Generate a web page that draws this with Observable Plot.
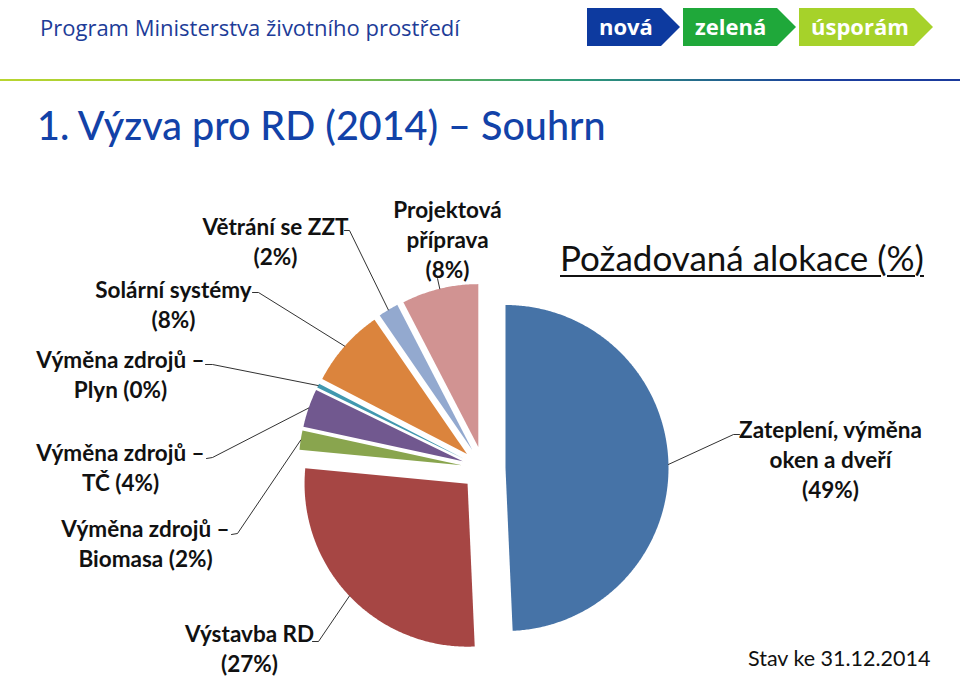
<!DOCTYPE html>
<html>
<head>
<meta charset="utf-8">
<script src="https://cdn.jsdelivr.net/npm/d3@7"></script>
<script src="https://cdn.jsdelivr.net/npm/@observablehq/plot@0.6"></script>
<style>
  html, body { margin:0; padding:0; background:#fff; }
  #page { position:relative; width:960px; height:676px; overflow:hidden; font-family: Lato, "Open Sans", sans-serif; }
  .abs { position:absolute; white-space:nowrap; }
  #prog { left:40px; top:12px; font-family:"Open Sans", sans-serif; font-size:22px; color:#1d3c98; }
  .tag { position:absolute; top:8px; height:38px; color:#fff; font-family:"Open Sans", sans-serif; font-weight:700; font-size:22px; line-height:36px;
         clip-path: polygon(0 0, calc(100% - 19px) 0, 100% 50%, calc(100% - 19px) 100%, 0 100%); box-sizing:border-box; }
  #rule { left:0; top:79px; width:960px; height:2px; background:linear-gradient(to right, #b9d52f 0%, #8cc63f 30%, #2e9a78 60%, #1b3f9e 85%, #1a3a9c 100%); }
  #title { left:37px; top:101px; font-size:39.5px; color:#1242a8; font-family:Lato, sans-serif; font-weight:500; }
  #chart { position:absolute; left:0; top:180px; }
  #alloc { left:560px; top:236px; font-size:35px; color:#111; text-decoration:underline; text-decoration-thickness:2px; text-underline-offset:4px; }
  #stav { left:748px; top:645px; font-size:21.5px; color:#111; }
</style>
</head>
<body>
<div id="page">
  <div class="abs" id="prog">Program Ministerstva životního prostředí</div>
  <div class="tag" style="left:587px;width:93px;background:#0d3a9f;padding-left:12px;">nová</div>
  <div class="tag" style="left:683px;width:113px;background:#1fa83a;padding-left:12px;">zelená</div>
  <div class="tag" style="left:799px;width:134px;background:#a6d22a;padding-left:12px;">úsporám</div>
  <div class="abs" id="rule"></div>
  <div class="abs" id="title">1. Výzva pro RD (2014) – Souhrn</div>
  <div id="chart"></div>
  <div class="abs" id="alloc">Požadovaná alokace (%)</div>
  <div class="abs" id="stav">Stav ke 31.12.2014</div>
</div>
<script>
// ---- data ----
const categories = [
  "Zateplení, výměna oken a dveří",
  "Výstavba RD",
  "Výměna zdrojů – Biomasa",
  "Výměna zdrojů – TČ",
  "Výměna zdrojů – Plyn",
  "Solární systémy",
  "Větrání se ZZT",
  "Projektová příprava"
];
const shares = [49.3, 27.2, 1.9, 3.8, 0.4, 7.8, 2.0, 7.6];
const shareLabels = ["49%", "27%", "2%", "4%", "0%", "8%", "2%", "8%"];
const labelLines = [
  ["Zateplení, výměna", "oken a dveří"],
  ["Výstavba RD"],
  ["Výměna zdrojů –", "Biomasa"],
  ["Výměna zdrojů –", "TČ"],
  ["Výměna zdrojů –", "Plyn"],
  ["Solární systémy"],
  ["Větrání se ZZT"],
  ["Projektová", "příprava"]
];
const colors = ["#4673a7", "#a64644", "#89a54e", "#71588f", "#4198af", "#db843d", "#93a9cf", "#d19392"];

// ---- layout (page pixel units) ----
const CX = 483, CY = 468, R = 163, EXPLODE = 22;
// label block centre, whether share sits on its own line, leader elbow/end
const labelLayout = [
  {x: 830, y: 458, own: true,  elbow: [733, 434], end: [739, 434]},
  {x: 249, y: 647, own: true,  elbow: [318, 641], end: [312, 641]},
  {x: 145, y: 542, own: false, elbow: [237, 533], end: [231, 534]},
  {x: 120, y: 466, own: false, elbow: [212, 457], end: [206, 458]},
  {x: 120, y: 373, own: false, elbow: [212, 364], end: [205, 364]},
  {x: 173, y: 303, own: true,  elbow: [258, 292], end: [252, 292]},
  {x: 275, y: 240, own: true,  elbow: [349, 230], end: [344, 230]},
  {x: 447, y: 238, own: true,  elbow: [437, 278], end: [437, 278]}
];

const rows = categories.map((c, i) => ({cat: c, value: shares[i], i}));
const arcs = d3.pie().sort(null).value(d => d.value)(rows);

const slicePts = [];
const leaderPts = [];
arcs.forEach(a => {
  const mid = (a.startAngle + a.endAngle) / 2;
  const ox = CX + Math.sin(mid) * EXPLODE, oy = CY - Math.cos(mid) * EXPLODE;
  const cat = a.data.cat;
  slicePts.push({cat, x: ox, y: oy});
  const n = Math.max(2, Math.ceil((a.endAngle - a.startAngle) / (Math.PI / 360)));
  for (let k = 0; k <= n; k++) {
    const t = a.startAngle + (a.endAngle - a.startAngle) * k / n;
    slicePts.push({cat, x: ox + Math.sin(t) * R, y: oy - Math.cos(t) * R});
  }
  slicePts.push({cat, x: ox, y: oy});
  const L = labelLayout[a.data.i];
  leaderPts.push({cat, x: L.end[0], y: L.end[1]});
  leaderPts.push({cat, x: L.elbow[0], y: L.elbow[1]});
  leaderPts.push({cat, x: ox + Math.sin(mid) * R, y: oy - Math.cos(mid) * R});
});

const labels = categories.map((c, i) => {
  const lines = labelLines[i].slice();
  const pct = "(" + shareLabels[i] + ")";
  if (labelLayout[i].own) lines.push(pct);
  else lines[lines.length - 1] += " " + pct;
  return {cat: c, x: labelLayout[i].x, y: labelLayout[i].y, text: lines.join("\n")};
});

const chart = Plot.plot({
  width: 960,
  height: 496,
  margin: 0,
  x: {domain: [0, 960], range: [0, 960], axis: null},
  y: {domain: [180, 676], range: [0, 496], axis: null},
  color: {domain: categories, range: colors},
  style: {background: "transparent", fontFamily: "Lato, sans-serif", overflow: "visible"},
  marks: [
    Plot.line(slicePts, {x: "x", y: "y", z: "cat", fill: "cat", stroke: "none", curve: "linear"}),
    Plot.line(leaderPts, {x: "x", y: "y", z: "cat", stroke: "#1a1a1a", strokeWidth: 0.9, curve: "linear"}),
    Plot.text(labels, {x: "x", y: "y", text: "text", fontSize: 22.5, fontWeight: "bold", lineHeight: 1.33, fill: "#111", textAnchor: "middle"})
  ]
});
document.getElementById("chart").appendChild(chart);
</script>
</body>
</html>
